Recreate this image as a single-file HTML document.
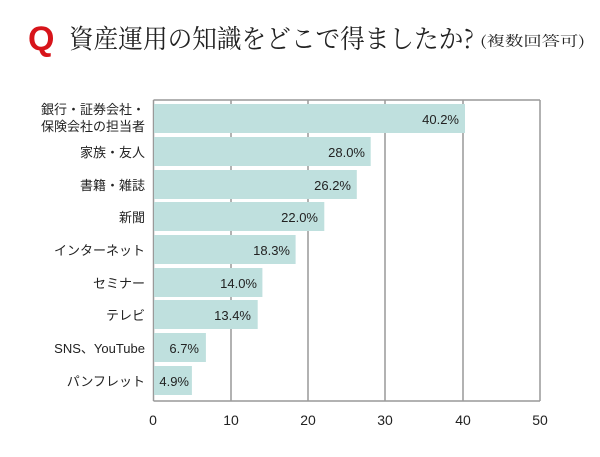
<!DOCTYPE html>
<html><head><meta charset="utf-8"><style>
body{margin:0;width:600px;height:452px;background:#fff;overflow:hidden;font-family:"Liberation Sans","Noto Sans CJK JP",sans-serif;}
</style></head><body>
<svg width="600" height="452" xmlns="http://www.w3.org/2000/svg">
<text x="28" y="50" font-family="Liberation Sans,sans-serif" font-weight="bold" font-size="34" fill="#d7141a">Q</text>
<text x="69" y="48" font-family="Noto Serif CJK SC,Noto Sans CJK JP,serif" font-size="26" fill="#222" textLength="405" lengthAdjust="spacingAndGlyphs">資産運用の知識をどこで得ましたか?</text>
<text x="480" y="46" font-family="Noto Serif CJK SC,serif" font-size="14" fill="#222" textLength="105" lengthAdjust="spacingAndGlyphs">(複数回答可)</text>
<g stroke="#999" stroke-width="1.5">
<line x1="153.5" y1="100" x2="540" y2="100"/>
<line x1="540" y1="100" x2="540" y2="401"/>
<line x1="153.5" y1="401" x2="540" y2="401"/>
<line x1="231" y1="100" x2="231" y2="401"/>
<line x1="308" y1="100" x2="308" y2="401"/>
<line x1="385" y1="100" x2="385" y2="401"/>
<line x1="463" y1="100" x2="463" y2="401"/>
<line x1="153.5" y1="100" x2="153.5" y2="401"/>
</g>
<g fill="#bfe0de">
<rect x="154" y="104" width="311" height="29"/>
<rect x="154" y="137" width="216.7" height="29"/>
<rect x="154" y="170" width="202.8" height="29"/>
<rect x="154" y="202" width="170.3" height="29"/>
<rect x="154" y="235" width="141.6" height="29"/>
<rect x="154" y="268" width="108.4" height="29"/>
<rect x="154" y="300" width="103.7" height="29"/>
<rect x="154" y="333" width="51.9" height="29"/>
<rect x="154" y="366" width="37.9" height="29"/>
</g>
<g font-size="13" fill="#222" text-anchor="end">
<text x="459" y="124">40.2%</text>
<text x="365" y="157">28.0%</text>
<text x="351" y="190">26.2%</text>
<text x="318" y="222">22.0%</text>
<text x="290" y="255">18.3%</text>
<text x="257" y="288">14.0%</text>
<text x="251" y="320">13.4%</text>
<text x="199" y="353">6.7%</text>
<text x="189" y="386">4.9%</text>
</g>
<g font-size="13" fill="#222" text-anchor="end">
<text x="145" y="114">銀行・証券会社・</text>
<text x="145" y="131">保険会社の担当者</text>
<text x="145" y="157">家族・友人</text>
<text x="145" y="190">書籍・雑誌</text>
<text x="145" y="222">新聞</text>
<text x="145" y="255">インターネット</text>
<text x="145" y="288">セミナー</text>
<text x="145" y="320">テレビ</text>
<text x="145" y="353">SNS、YouTube</text>
<text x="145" y="386">パンフレット</text>
</g>
<g font-size="14" fill="#222" text-anchor="middle">
<text x="153" y="425">0</text><text x="231" y="425">10</text><text x="308" y="425">20</text>
<text x="385" y="425">30</text><text x="463" y="425">40</text><text x="540" y="425">50</text>
</g>
</svg>
</body></html>
